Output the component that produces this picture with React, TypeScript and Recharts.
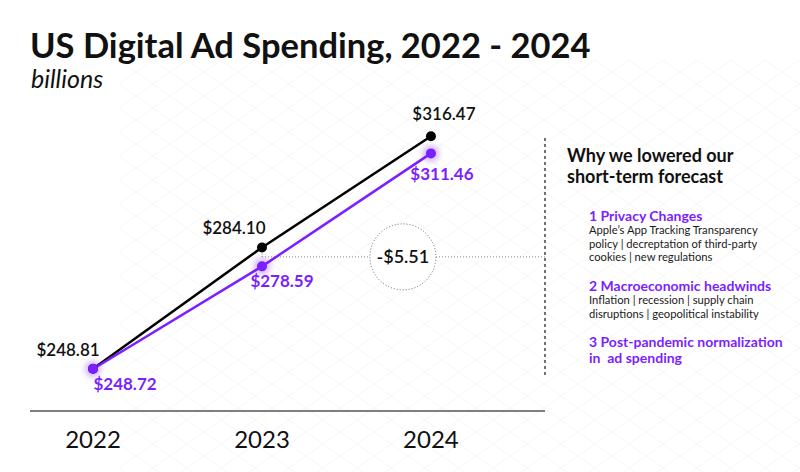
import { LineChart, Line, XAxis, YAxis, LabelList, ReferenceLine, ReferenceDot } from "recharts";

// values in $ billions
const years = [2022, 2023, 2024];
const previousForecast = [248.81, 284.1, 316.47];
const currentForecast = [248.72, 278.59, 311.46];

const reasons = [
  { title: "1 Privacy Changes", lines: ["Apple’s App Tracking Transparency", "policy | decreptation of third-party", "cookies | new regulations"] },
  { title: "2 Macroeconomic headwinds", lines: ["Inflation | recession | supply chain", "disruptions | geopolitical instability"] },
  { title: "3 Post-pandemic normalization", lines: ["in  ad spending"] },
];

// label nudges (px) per point, not data
const prevOffsets = [
  [-25, -13],
  [-28, -13],
  [13, -16],
];
const currOffsets = [
  [32, 21],
  [20, 21],
  [11, 27],
];

const PURPLE = "#7b1fff";
const FONT = "Lato, 'Open Sans', sans-serif";
const X_MIN = 2021.627;
const X_MAX = 2024.675;

const data = years.map((year, i) => ({ year, previous: previousForecast[i], current: currentForecast[i] }));
const gapIdx = 1;
const gap = currentForecast[gapIdx] - previousForecast[gapIdx];
const gapMid = (currentForecast[gapIdx] + previousForecast[gapIdx]) / 2;

const money = (v: number) => `$${v.toFixed(2)}`;

function valueLabel(offsets: number[][], color: string, weight: number) {
  return (p: any) => {
    const [dx, dy] = offsets[p.index] ?? [0, 0];
    return (
      <text x={p.x + dx} y={p.y + dy} textAnchor="middle" fill={color} fontSize={17} fontWeight={weight} fontFamily={FONT}>
        {money(Number(p.value))}
      </text>
    );
  };
}

function PurpleDot(p: any) {
  if (p.cx == null) return null;
  return (
    <g>
      <circle cx={p.cx} cy={p.cy} r={9} fill={PURPLE} opacity={0.25} filter="url(#glow)" />
      <circle cx={p.cx} cy={p.cy} r={5} fill={PURPLE} />
    </g>
  );
}

export default function App() {
  return (
    <div style={{ position: "absolute", left: 0, top: 0, width: 800, height: 472, background: "#fff", fontFamily: FONT }}>
      <svg width={800} height={472} style={{ position: "absolute", left: 0, top: 0 }}>
        <defs>
          <pattern id="diamonds" width={34} height={24} patternUnits="userSpaceOnUse">
            <path d="M0 0 L34 24 M34 0 L0 24" stroke="#f6f6f6" strokeWidth={1} />
          </pattern>
        </defs>
        <rect x={120} y={60} width={680} height={412} fill="url(#diamonds)" />
      </svg>

      <div style={{ position: "absolute", left: 0, top: 0 }}>
        <LineChart width={800} height={472} data={data} margin={{ top: 100, right: 255, left: 30, bottom: 21 }}>
          <defs>
            <filter id="glow" x="-100%" y="-100%" width="300%" height="300%">
              <feGaussianBlur stdDeviation={2.5} />
            </filter>
          </defs>
          <XAxis
            dataKey="year"
            type="number"
            domain={[X_MIN, X_MAX]}
            ticks={years}
            height={40}
            tickLine={false}
            tickMargin={14}
            axisLine={{ stroke: "#555", strokeWidth: 1.5 }}
            tick={{ fontSize: 24, fill: "#111", fontFamily: FONT }}
          />
          <YAxis hide domain={[236.5, 327]} />
          <ReferenceLine
            segment={[{ x: X_MAX, y: 247 }, { x: X_MAX, y: 316.4 }]}
            stroke="#444"
            strokeWidth={1.5}
            strokeDasharray="3 3"
          />
          <ReferenceLine
            segment={[{ x: years[gapIdx], y: gapMid }, { x: X_MAX, y: gapMid }]}
            stroke="#888"
            strokeDasharray="1 2"
          />
          <ReferenceLine
            segment={[{ x: years[gapIdx], y: previousForecast[gapIdx] }, { x: years[gapIdx], y: gapMid }]}
            stroke="#888"
            strokeDasharray="1 2"
          />
          <ReferenceDot
            x={2023.834}
            y={gapMid}
            r={33}
            fill="#fff"
            stroke="#666"
            strokeDasharray="1 2"
            label={{ value: `-$${Math.abs(gap).toFixed(2)}`, fill: "#111", fontSize: 18, fontWeight: 600, fontFamily: FONT }}
          />
          <Line
            dataKey="previous"
            stroke="#000"
            strokeWidth={2.5}
            dot={{ r: 5, fill: "#000", stroke: "none" }}
            isAnimationActive={false}
          >
            <LabelList dataKey="previous" content={valueLabel(prevOffsets, "#111", 600)} />
          </Line>
          <Line
            dataKey="current"
            stroke={PURPLE}
            strokeWidth={2.5}
            dot={<PurpleDot />}
            isAnimationActive={false}
          >
            <LabelList dataKey="current" content={valueLabel(currOffsets, PURPLE, 700)} />
          </Line>
        </LineChart>
      </div>

      <svg width={800} height={472} style={{ position: "absolute", left: 0, top: 0, pointerEvents: "none" }} fontFamily={FONT}>
        <text x={30} y={58} fontSize={34.5} fontWeight={700} fill="#111">
          US Digital Ad Spending, 2022 - 2024
        </text>
        <text x={31} y={88} fontSize={25} fontStyle="italic" fill="#111">
          billions
        </text>
        <text x={567} y={162} fontSize={18} fontWeight={700} fill="#111">
          Why we lowered our
        </text>
        <text x={567} y={183} fontSize={18} fontWeight={700} fill="#111">
          short-term forecast
        </text>
        {reasons.map((r, i) => {
          const tops = [221, 291, 347];
          return (
            <g key={r.title}>
              <text x={589} y={tops[i]} fontSize={14} fontWeight={700} fill={PURPLE}>
                {r.title}
              </text>
              {r.lines.map((l, j) =>
                i === 2 ? (
                  <text key={l} x={589} y={tops[i] + 16 * (j + 1)} fontSize={14} fontWeight={700} fill={PURPLE} style={{ whiteSpace: "pre" }}>
                    {l}
                  </text>
                ) : (
                  <text key={l} x={589} y={tops[i] + 13.3 * (j + 1)} fontSize={11.2} fill="#1a1a1a">
                    {l}
                  </text>
                )
              )}
            </g>
          );
        })}
      </svg>
    </div>
  );
}
